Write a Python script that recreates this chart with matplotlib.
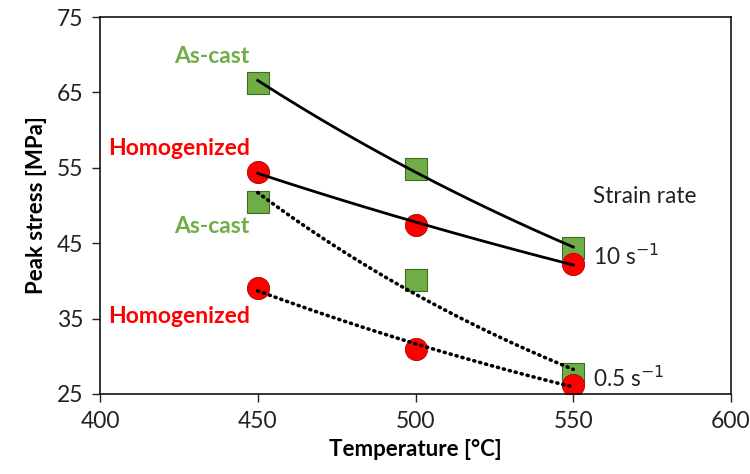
import numpy as np
import matplotlib
matplotlib.use("Agg")
import matplotlib.pyplot as plt

plt.rcParams['font.family'] = ['Lato', 'DejaVu Sans']

# data
temperatura = [450, 500, 550]
ascast_10 = [66.3, 54.9, 44.3]
homog_10 = [54.5, 47.4, 42.3]
ascast_05 = [50.5, 40.1, 27.6]
homog_05 = [39.1, 31.0, 26.2]

verde = '#70AD47'
rojo = '#FF0000'

fig = plt.figure(figsize=(7.5, 4.74), dpi=100)
ax = fig.add_axes([100/750, 1-394/474, 631/750, 377/474])

# marcadores
for serie in [ascast_10, ascast_05]:
    ax.plot(temperatura, serie, 's', ms=15.5, mfc=verde, mec='#3D6B22', mew=0.8, zorder=2)
for serie in [homog_10, homog_05]:
    ax.plot(temperatura, serie, 'o', ms=16, mfc=rojo, mec='#B00000', mew=0.6, zorder=2)

# lineas de tendencia exponencial
xx = np.linspace(450, 550, 100)
def tendencia(y):
    b, a = np.polyfit(temperatura, np.log(y), 1)
    return np.exp(a + b*xx)

for serie in [ascast_10, homog_10]:
    ax.plot(xx, tendencia(serie), '-', color='black', lw=2.0, zorder=3)
for serie in [ascast_05, homog_05]:
    ax.plot(xx, tendencia(serie), color='black', lw=2.6, zorder=3,
            linestyle=(0, (0.3, 1.4)), dash_capstyle='round')

ax.set_xlim(400, 600)
ax.set_ylim(25, 75)
ax.set_xticks([400, 450, 500, 550, 600])
ax.set_yticks([25, 35, 45, 55, 65, 75])
ax.tick_params(labelsize=16.5, length=6, width=1, direction='out', colors='#222222', pad=6)
for s in ax.spines.values():
    s.set_linewidth(1.1)
ax.set_xlabel('Temperature [°C]', fontsize=16, fontweight='bold', labelpad=5)
ax.set_ylabel('Peak stress [MPa]', fontsize=16, fontweight='bold', labelpad=7)

# etiquetas
ax.text(447.5, 68.85, 'As-cast', color=verde, fontsize=16.5, fontweight='bold', ha='right', va='baseline')
ax.text(447.5, 56.7, 'Homogenized', color=rojo, fontsize=16.5, fontweight='bold', ha='right', va='baseline')
ax.text(447.5, 46.4, 'As-cast', color=verde, fontsize=16.5, fontweight='bold', ha='right', va='baseline')
ax.text(447.5, 34.4, 'Homogenized', color=rojo, fontsize=16.5, fontweight='bold', ha='right', va='baseline')
ax.text(556.3, 50.3, 'Strain rate', fontsize=16.3, ha='left', va='baseline', color='#222222')
ax.text(556.3, 42.1, '10 s$^{\u22121}$', fontsize=16.3, ha='left', va='baseline', color='#222222')
ax.text(556.3, 26.0, '0.5 s$^{\u22121}$', fontsize=16.3, ha='left', va='baseline', color='#222222')

plt.savefig('out.png', dpi=100)
